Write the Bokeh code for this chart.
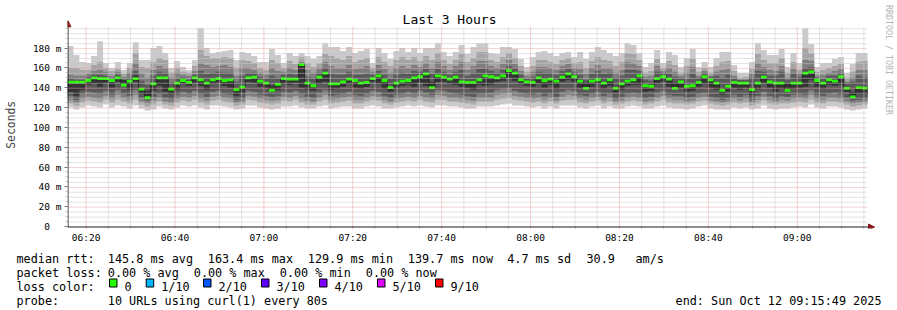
import math
import pandas as pd
from bokeh.plotting import figure
from bokeh.layouts import column
from bokeh.models import Range1d, FixedTicker, DatetimeTickFormatter, Label, Arrow, NormalHead
from bokeh.embed import file_html
from bokeh.resources import INLINE
from bokeh.core.properties import value

# ---------------- data ----------------
end_time = "2025-10-12 09:15:49"
step_seconds = 80

# median rtt per 80 s step (ms)
med = [
    145.7, 145.7, 145.7, 147.3, 150.0, 149.3, 149.3, 147.3, 150.0, 142.7,
    146.7, 149.3, 138.7, 129.9, 144.0, 150.0, 150.0, 138.7, 144.7, 147.3,
    145.3, 150.0, 148.0, 144.7, 148.0, 149.3, 147.3, 148.0, 138.0, 140.7,
    150.0, 150.7, 146.7, 144.7, 137.3, 143.3, 149.3, 148.7, 148.7, 163.4,
    144.7, 142.0, 150.7, 154.7, 144.0, 144.0, 146.0, 148.7, 147.3, 144.7,
    145.3, 149.3, 152.0, 147.3, 140.0, 144.7, 146.7, 147.3, 150.0, 151.3,
    154.0, 140.0, 152.0, 150.7, 148.7, 150.7, 146.0, 145.3, 145.3, 148.0,
    152.0, 151.3, 150.0, 152.0, 157.3, 154.7, 148.0, 146.0, 145.3, 150.0,
    147.3, 148.7, 146.7, 150.7, 154.0, 151.3, 146.7, 139.3, 146.7, 148.0,
    144.7, 148.0, 139.3, 144.0, 146.7, 148.0, 152.0, 142.0, 141.3, 149.3,
    151.3, 148.7, 139.3, 146.0, 141.3, 142.0, 145.3, 151.3, 148.0, 144.7,
    137.3, 141.3, 145.3, 144.7, 144.7, 138.0, 144.7, 150.7, 146.0, 144.7,
    144.7, 137.3, 144.7, 144.7, 154.7, 156.0, 147.3, 144.7, 148.0, 146.7,
    151.3, 139.3, 130.7, 140.0, 139.7,
]

# sorted pings per step, p1 = fastest ... p10 = slowest (ms)
p1 = [
    120, 118, 120, 122, 121, 120, 123, 120, 122, 121,
    119, 122, 119, 117, 118, 121, 119, 118, 120, 122,
    121, 122, 120, 118, 122, 122, 121, 120, 118, 119,
    122, 122, 120, 119, 118, 119, 121, 121, 122, 120,
    119, 119, 121, 122, 119, 120, 121, 121, 119, 119,
    121, 122, 121, 119, 119, 120, 121, 122, 121, 122,
    121, 120, 122, 122, 121, 121, 120, 119, 119, 121,
    121, 121, 122, 123, 124, 122, 122, 121, 120, 121,
    119, 121, 119, 122, 122, 122, 120, 119, 121, 122,
    119, 121, 119, 119, 121, 122, 121, 119, 119, 121,
    122, 120, 119, 119, 118, 119, 121, 122, 119, 118,
    118, 118, 120, 119, 120, 118, 119, 122, 119, 118,
    119, 119, 120, 121, 120, 123, 120, 119, 121, 121,
    120, 118, 117, 118, 119,
]
p2 = [
    124, 122, 125, 127, 126, 125, 128, 125, 128, 126,
    124, 128, 123, 121, 123, 126, 123, 122, 125, 127,
    126, 128, 125, 123, 127, 128, 126, 125, 122, 123,
    128, 127, 125, 124, 123, 124, 127, 126, 128, 125,
    123, 123, 126, 128, 124, 125, 126, 127, 124, 124,
    126, 128, 127, 124, 123, 125, 126, 127, 126, 128,
    126, 125, 128, 128, 126, 126, 125, 124, 123, 126,
    126, 126, 128, 129, 130, 128, 127, 126, 125, 126,
    124, 126, 124, 127, 128, 128, 125, 124, 126, 127,
    124, 126, 123, 124, 126, 127, 126, 123, 124, 126,
    128, 125, 124, 124, 123, 124, 126, 127, 124, 123,
    122, 123, 125, 124, 125, 122, 124, 127, 124, 123,
    124, 124, 125, 126, 125, 128, 125, 124, 126, 126,
    125, 123, 121, 122, 123,
]
p3 = [
    128, 125, 129, 131, 130, 129, 132, 129, 133, 130,
    128, 133, 126, 124, 127, 130, 126, 125, 129, 131,
    130, 132, 129, 127, 131, 132, 130, 129, 125, 126,
    132, 131, 129, 128, 127, 128, 131, 130, 132, 129,
    127, 126, 130, 133, 128, 129, 130, 131, 128, 128,
    130, 132, 131, 128, 126, 129, 130, 131, 130, 132,
    130, 129, 133, 132, 130, 130, 129, 128, 127, 130,
    130, 130, 133, 134, 135, 132, 131, 130, 129, 130,
    128, 130, 127, 131, 133, 132, 129, 128, 130, 131,
    128, 130, 126, 127, 130, 131, 130, 126, 127, 130,
    132, 129, 128, 128, 126, 127, 130, 131, 127, 126,
    125, 126, 129, 127, 129, 125, 128, 131, 128, 126,
    128, 127, 129, 130, 129, 133, 129, 128, 130, 130,
    129, 126, 124, 125, 126,
]
p4 = [
    132, 128, 134, 136, 135, 134, 137, 133, 138, 134,
    132, 138, 130, 127, 131, 134, 130, 129, 133, 136,
    134, 137, 134, 131, 136, 137, 134, 133, 128, 130,
    137, 136, 133, 132, 131, 132, 136, 135, 137, 134,
    131, 130, 135, 138, 132, 133, 134, 136, 133, 132,
    134, 137, 136, 132, 130, 133, 134, 136, 134, 137,
    135, 133, 138, 137, 135, 134, 133, 132, 131, 134,
    134, 135, 138, 139, 140, 137, 135, 134, 133, 135,
    132, 134, 131, 136, 138, 137, 133, 132, 134, 136,
    132, 134, 129, 131, 134, 135, 134, 130, 131, 135,
    137, 133, 132, 132, 130, 131, 134, 135, 131, 130,
    128, 130, 133, 131, 133, 128, 132, 136, 132, 129,
    132, 131, 133, 134, 133, 138, 133, 132, 134, 135,
    133, 130, 127, 128, 129,
]
p5 = [
    136, 132, 138, 143, 144, 141, 145, 140, 146, 142,
    138, 146, 134, 129.5, 137, 142, 136, 134, 138, 144,
    142, 145, 142, 138, 144, 145, 142, 140, 132, 135,
    146, 145, 141, 140, 137, 138, 144, 143, 145, 140,
    138, 137, 144, 146, 138, 139, 141, 144, 140, 139,
    141, 146, 144, 139, 136, 140, 142, 143, 141, 145,
    142, 140, 146, 146, 144, 143, 141, 140, 138, 143,
    142, 143, 146, 147, 150, 147, 144, 142, 141, 144,
    140, 143, 139, 146, 148, 146, 140, 139, 141, 144,
    139, 142, 135, 138, 142, 143, 143, 136, 137, 144,
    146, 141, 139, 140, 136, 137, 141, 144, 140, 138,
    133, 136, 140, 138, 140, 133, 139, 145, 140, 136,
    139, 137, 139, 140, 141, 148, 141, 139, 143, 142,
    143, 136, 130, 134, 134,
]
p6 = [
    146, 146, 146, 148, 150, 150, 150, 148, 150, 148,
    147, 152, 139, 137, 144, 150, 150, 139, 145, 148,
    146, 150, 148, 145, 148, 150, 148, 148, 138, 141,
    150, 151, 147, 145, 142, 144, 150, 149, 149, 163.5,
    145, 142, 151, 155, 144, 144, 146, 149, 147, 145,
    146, 150, 152, 147, 140, 145, 147, 148, 150, 151,
    154, 146, 152, 151, 149, 151, 146, 146, 146, 148,
    152, 151, 150, 152, 157, 155, 148, 146, 146, 150,
    147, 149, 147, 151, 154, 151, 147, 145, 147, 148,
    145, 148, 139, 144, 147, 148, 152, 142, 142, 149,
    151, 149, 145, 146, 141, 142, 146, 151, 148, 145,
    137, 141, 146, 145, 145, 138, 145, 151, 146, 145,
    145, 144, 145, 145, 155, 156, 147, 145, 148, 147,
    151, 139, 136, 140, 140,
]
p7 = [
    149, 148, 148, 151, 153, 153, 152, 149, 153, 147,
    150, 157, 147, 143, 152, 156, 155, 145, 149, 150,
    148, 153, 157, 154, 155, 156, 155, 155, 146, 152,
    155, 155, 151, 149, 152, 150, 153, 154, 153, 165,
    151, 150, 155, 160, 154, 153, 153, 156, 153, 153,
    154, 153, 157, 153, 149, 153, 155, 154, 157, 156,
    159, 154, 159, 156, 153, 156, 158, 152, 155, 159,
    160, 157, 155, 158, 162, 160, 153, 149, 151, 156,
    155, 155, 153, 157, 159, 156, 153, 148, 154, 157,
    154, 155, 150, 152, 158, 158, 157, 148, 147, 156,
    155, 154, 151, 150, 149, 154, 150, 155, 151, 152,
    150, 153, 149, 148, 148, 150, 157, 156, 152, 152,
    156, 148, 154, 151, 160, 161, 150, 149, 152, 152,
    155, 145, 146, 152, 150,
]
p8 = [
    153, 152, 152, 154, 157, 158, 156, 152, 156, 151,
    155, 165, 154, 150, 158, 162, 160, 150, 155, 153,
    152, 157, 165, 163, 161, 162, 163, 161, 152, 160,
    160, 158, 155, 153, 160, 157, 156, 160, 158, 166,
    158, 155, 160, 166, 162, 160, 160, 163, 159, 160,
    162, 156, 163, 159, 155, 160, 162, 160, 163, 161,
    165, 160, 166, 162, 158, 162, 166, 158, 162, 167,
    167, 162, 160, 164, 168, 164, 157, 152, 156, 161,
    161, 160, 158, 162, 164, 160, 159, 154, 160, 163,
    160, 160, 155, 158, 166, 165, 162, 151, 152, 162,
    157, 160, 156, 152, 155, 161, 152, 157, 152, 156,
    158, 159, 152, 147, 148, 154, 165, 161, 158, 157,
    162, 150, 159, 154, 168, 167, 152, 153, 155, 157,
    159, 146, 150, 158, 158,
]
p9 = [
    160, 160, 158, 158, 163, 166, 160, 157, 159, 154,
    160, 175, 161, 160, 166, 170, 168, 155, 160, 156,
    155, 162, 178, 172, 170, 170, 171, 170, 160, 168,
    167, 165, 160, 158, 168, 165, 160, 167, 164, 171,
    165, 161, 165, 174, 172, 170, 168, 172, 166, 168,
    170, 160, 171, 166, 162, 168, 171, 168, 171, 167,
    172, 168, 175, 168, 164, 168, 174, 166, 170, 176,
    176, 168, 166, 171, 175, 170, 162, 156, 162, 168,
    168, 166, 164, 168, 170, 165, 166, 160, 167, 171,
    168, 167, 162, 166, 175, 174, 168, 155, 157, 169,
    160, 167, 163, 155, 162, 169, 156, 160, 155, 162,
    166, 167, 157, 150, 151, 159, 174, 168, 165, 165,
    170, 155, 166, 158, 180, 175, 156, 158, 160, 162,
    164, 150, 156, 166, 167,
]
p10 = [
    182, 173, 166, 165, 172, 187, 165, 160, 166, 158,
    165, 186, 168, 168, 180, 182, 175, 160, 167, 161,
    158, 168, 200, 180, 175, 176, 177, 178, 168, 176,
    175, 172, 166, 166, 179, 173, 165, 175, 172, 175,
    172, 169, 172, 185, 181, 181, 177, 181, 175, 177,
    179, 165, 180, 175, 169, 177, 180, 176, 180, 175,
    180, 180, 185, 176, 172, 176, 183, 174, 181, 185,
    185, 175, 174, 181, 181, 179, 169, 161, 171, 176,
    177, 175, 172, 175, 176, 171, 176, 169, 176, 181,
    178, 175, 172, 175, 185, 183, 175, 161, 165, 178,
    165, 176, 173, 161, 170, 179, 161, 166, 161, 170,
    176, 176, 163, 155, 155, 166, 185, 178, 173, 173,
    179, 161, 175, 165, 200, 184, 161, 165, 165, 169,
    171, 155, 164, 175, 175,
]

y_ticks = [0, 20, 40, 60, 80, 100, 120, 140, 160, 180]
y_tick_labels = ["0\u00a0\u00a0", "20 m", "40 m", "60 m", "80 m", "100 m", "120 m",
                 "140 m", "160 m", "180 m"]
x_tick_times = ["06:20", "06:40", "07:00", "07:20", "07:40", "08:00", "08:20", "08:40", "09:00"]

rtt_stats = ["145.8 ms avg", "163.4 ms max", "129.9 ms min", "139.7 ms now", "4.7 ms sd"]
rate_stat = ["30.9", "am/s"]
loss_stats = ["0.00 % avg", "0.00 % max", "0.00 % min", "0.00 % now"]
loss_labels = ["0", "1/10", "2/10", "3/10", "4/10", "5/10", "9/10"]
loss_colors = ["#26ff00", "#00b8ff", "#0059ff", "#5e00ff", "#7e00ff", "#dd00ff", "#ff0000"]
probe_text = "10 URLs using curl(1) every 80s"
end_text = "end: Sun Oct 12 09:15:49 2025"

# ---------------- layout / style ----------------
FONT = "DejaVu Sans Mono"
W, H, TOP_H = 897, 310, 245
PL, PR, PB = 66, 867, 228          # plot area in canvas pixels (left, right, zero line)
FRAME_BOTTOM = 230                 # bokeh frame bottom (canvas px)
SMOKE = ["#cacaca", "#a4a4a4", "#7e7e7e", "#585858", "#323232"]
AXIS_C = "#1e1e1e"
ARROW_C = "#8b1a1a"
MGRID_C = "#eba3a3"
GRID_C = "#c8c8c8"
GRID_TOP = 202


def ms(ts):
    return ts.value / 1e6


t_end = pd.Timestamp(end_time)
t_start = t_end - pd.Timedelta(seconds=step_seconds * len(med))
edges = [ms(t_start + pd.Timedelta(seconds=step_seconds * k)) for k in range(len(med) + 1)]
x0, x1 = edges[0], edges[-1]
px_ms = (x1 - x0) / (PR - PL)


def cx(px):  # canvas x pixel -> data x
    return x0 + (px - PL) * px_ms


def cy(py):  # canvas y pixel -> data y (1 ms per pixel)
    return PB - py


day = t_end.strftime("%Y-%m-%d")
major_x = [ms(pd.Timestamp(f"{day} {t}")) for t in x_tick_times]
minor_x = []
m = pd.Timestamp(f"{day} 06:20")
while m <= t_end:
    v = ms(m)
    if v >= x0 and v not in major_x:
        minor_x.append(v)
    m += pd.Timedelta(minutes=5)
minor_y = [v for v in range(5, 205, 5) if v not in y_ticks]

p = figure(width=W, height=TOP_H, x_axis_type="datetime",
           x_range=Range1d(x0, cx(W)), y_range=Range1d(cy(FRAME_BOTTOM), cy(0)),
           output_backend="svg", toolbar_location=None,
           min_border_left=PL, min_border_right=0,
           min_border_top=0, min_border_bottom=TOP_H - FRAME_BOTTOM,
           background_fill_color="white", border_fill_color="white",
           outline_line_color=None)
p.xgrid.visible = False
p.ygrid.visible = False

# smoke
bands = [(p1, p10), (p2, p9), (p3, p8), (p4, p7), (p5, p6)]
for (lo, hi), col in zip(bands, SMOKE):
    p.varea_step(x=edges, y1=lo + [lo[-1]], y2=hi + [hi[-1]], step_mode="after",
                 fill_color=col)

# median line and loss-coloured median bars
p.step(x=edges, y=med + [med[-1]], mode="after", line_color="#202020", line_width=1)
p.quad(left=edges[:-1], right=edges[1:], bottom=[v - 1.4 for v in med],
       top=[v + 1.4 for v in med], fill_color=loss_colors[0], line_color=None)

# dotted grid (drawn over the graph, as rrdtool does), half-pixel aligned
p.segment(x0=minor_x, x1=minor_x, y0=[0] * len(minor_x), y1=[GRID_TOP] * len(minor_x),
          line_color=GRID_C, line_dash="1 1", line_width=1)
p.segment(x0=[x0] * len(minor_y), x1=[x1] * len(minor_y),
          y0=[v - 0.5 for v in minor_y], y1=[v - 0.5 for v in minor_y],
          line_color=GRID_C, line_dash="1 1", line_width=1)
p.segment(x0=major_x, x1=major_x, y0=[0] * len(major_x), y1=[GRID_TOP] * len(major_x),
          line_color=MGRID_C, line_dash="1 1", line_width=1)
p.segment(x0=[x0] * (len(y_ticks) - 1), x1=[x1] * (len(y_ticks) - 1),
          y0=[v - 0.5 for v in y_ticks[1:]], y1=[v - 0.5 for v in y_ticks[1:]],
          line_color=MGRID_C, line_dash="1 1", line_width=1)

# axes (bokeh's own) - ticks and labels
xt = FixedTicker(ticks=major_x, minor_ticks=minor_x)
yt = FixedTicker(ticks=y_ticks, minor_ticks=minor_y)
p.xaxis.ticker = xt
p.yaxis.ticker = yt
fmt = "%H:%M"
p.xaxis.formatter = DatetimeTickFormatter(seconds=fmt, minsec=fmt, minutes=fmt,
                                          hourmin=fmt, hours=fmt, days=fmt)
p.yaxis.major_label_overrides = {t: s for t, s in zip(y_ticks, y_tick_labels)}
for ax in (p.xaxis, p.yaxis):
    ax.axis_line_color = None
    ax.major_label_text_font = FONT
    ax.major_label_text_font_size = "9.5px"
    ax.major_label_text_color = "black"
p.xaxis.major_tick_in = 2
p.xaxis.major_tick_out = 0
p.xaxis.minor_tick_in = 2
p.xaxis.minor_tick_out = 0
p.xaxis.major_tick_line_color = MGRID_C
p.xaxis.minor_tick_line_color = MGRID_C
p.xaxis.major_label_standoff = 3
p.yaxis.major_tick_in = 0
p.yaxis.minor_tick_in = 0
p.yaxis.major_tick_out = 3
p.yaxis.minor_tick_out = 2
p.yaxis.major_tick_line_color = "#777777"
p.yaxis.minor_tick_line_color = GRID_C
p.yaxis.major_label_standoff = 3
p.yaxis.axis_label = "Seconds" + "\u00a0" * 3
p.yaxis.axis_label_text_font = FONT
p.yaxis.axis_label_text_font_size = "11.4px"
p.yaxis.axis_label_text_font_style = "normal"
p.yaxis.axis_label_standoff = 12

# axis lines with arrow heads
p.add_layout(Arrow(x_start=cx(PL), y_start=-0.5, x_end=cx(874), y_end=-0.5,
                   line_color=AXIS_C, line_width=1,
                   end=NormalHead(size=6, fill_color=ARROW_C, line_color=ARROW_C, line_width=1)))
p.add_layout(Arrow(x_start=cx(66.5), y_start=-0.5, x_end=cx(66.5), y_end=cy(20.5),
                   line_color=AXIS_C, line_width=1,
                   end=NormalHead(size=6, fill_color=ARROW_C, line_color=ARROW_C, line_width=1)))

# title and vertical watermark
p.add_layout(Label(x=cx(448.5), y=cy(19), text="Last 3 Hours", text_font=FONT,
                   text_font_size="13px", text_align="center", text_baseline="middle",
                   text_color="black"))
p.add_layout(Label(x=cx(888), y=cy(60), text="RRDTOOL / TOBI OETIKER", text_font=FONT,
                   text_font_size="8.3px", text_align="center", text_baseline="middle",
                   angle=-math.pi / 2, text_color="#b4b4b4"))

# ---------------- legend block ----------------
LH = H - TOP_H
q = figure(width=W, height=LH, x_range=Range1d(0, W), y_range=Range1d(0, LH),
           output_backend="svg", toolbar_location=None, min_border=0,
           x_axis_location=None, y_axis_location=None, outline_line_color=None,
           background_fill_color="white", border_fill_color="white")
q.frame_align = False
q.xgrid.visible = False
q.ygrid.visible = False


def ly(py):  # canvas y pixel -> legend figure y
    return H - py


rows = [258.3, 272.3, 286.3, 300.3]
chunks = [
    ("median rtt:", 16, rows[0]),
    (rtt_stats[0], 107.3, rows[0]), (rtt_stats[1], 207.3, rows[0]),
    (rtt_stats[2], 307.3, rows[0]), (rtt_stats[3], 407.3, rows[0]),
    (rtt_stats[4], 506.7, rows[0]), (rate_stat[0], 586, rows[0]), (rate_stat[1], 635, rows[0]),
    ("packet loss:", 16, rows[1]),
    (loss_stats[0], 107.3, rows[1]), (loss_stats[1], 193.3, rows[1]),
    (loss_stats[2], 279.3, rows[1]), (loss_stats[3], 365.3, rows[1]),
    ("loss color:", 16, rows[2]),
    ("probe:", 16, rows[3]), (probe_text, 107.3, rows[3]),
]
box_x = [109, 145.7, 203, 261, 319, 377, 435]
for lab, bx in zip(loss_labels, box_x):
    chunks.append((lab, bx + 15, rows[2]))

q.text(x=[c[1] for c in chunks], y=[ly(c[2]) for c in chunks], text=[c[0] for c in chunks],
       text_font=value(FONT), text_font_size="11.8px", text_baseline="alphabetic",
       text_align="left", text_color="black")
q.text(x=[881], y=[ly(rows[3])], text=[end_text], text_font=value(FONT),
       text_font_size="11.8px", text_baseline="alphabetic", text_align="right",
       text_color="black")
q.quad(left=box_x, right=[b + 7.5 for b in box_x],
       bottom=[ly(286.5)] * len(box_x), top=[ly(278.5)] * len(box_x),
       fill_color=loss_colors, line_color="black", line_width=1)

layout = column(p, q, spacing=0)
open("out.html", "w").write(file_html(layout, INLINE))
